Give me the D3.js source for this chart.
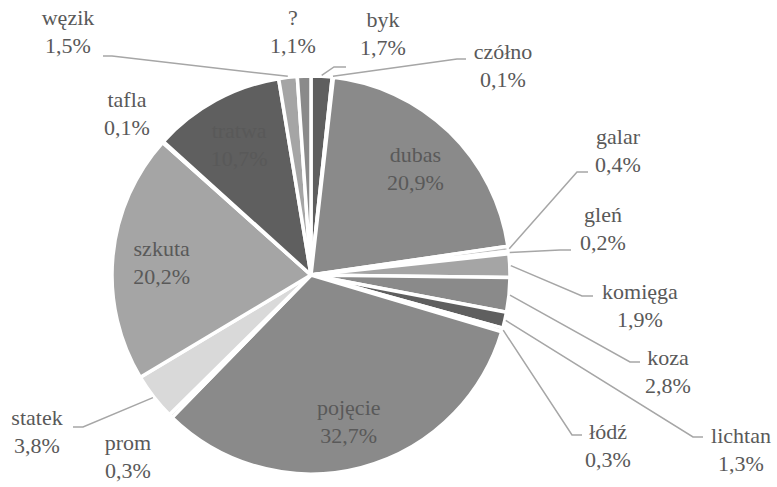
<!DOCTYPE html>
<html>
<head>
<meta charset="utf-8">
<script src="https://cdn.jsdelivr.net/npm/d3@7"></script>
<style>
  body { margin: 0; background: #fff; }
</style>
</head>
<body>
<svg id="chart"></svg>
<script>
// boat types, clockwise from 12 o'clock
var names = ['byk', 'czółno', 'dubas', 'galar', 'gleń', 'komięga', 'koza', 'lichtan', 'łódź',
             'pojęcie', 'prom', 'statek', 'szkuta', 'tafla', 'tratwa', 'węzik', '?'];
var shares = [1.7, 0.1, 20.9, 0.4, 0.2, 1.9, 2.8, 1.3, 0.3, 32.7, 0.3, 3.8, 20.2, 0.1, 10.7, 1.5, 1.1];
var insideNames = ['dubas', 'pojęcie', 'szkuta', 'tratwa'];

var width = 777, height = 487;
var cx = 311, cy = 275, radius = 199;

// grey palette, repeats every 7 slices
var greys = ['#5f5f5f', '#a5a5a5', '#8a8a8a', '#bfbfbf', '#d9d9d9', '#a5a5a5', '#8a8a8a'];

// outside label placement: text centre x, baseline of the first line, leader elbow + end
var outside = {
  'węzik':   { x: 68,  y: 25,  leader: [[112, 56], [103, 56]] },
  '?':       { x: 293, y: 25 },
  'byk':     { x: 383, y: 27,  leader: [[334, 67], [346, 67]] },
  'czółno':  { x: 503, y: 59,  leader: [[457, 59], [466, 59]] },
  'galar':   { x: 618, y: 144, leader: [[577, 172], [588, 172]] },
  'gleń':    { x: 603, y: 222, leader: [[560, 250], [571, 250]] },
  'komięga': { x: 640, y: 299, leader: [[582, 296], [593, 296]] },
  'koza':    { x: 668, y: 365, leader: [[630, 362], [640, 362]] },
  'lichtan': { x: 741, y: 443, leader: [[693, 437], [703, 437]] },
  'łódź':    { x: 608, y: 439, leader: [[572, 435], [582, 435]] },
  'prom':    { x: 128, y: 450 },
  'statek':  { x: 37,  y: 425, leader: [[83, 427], [73, 427]] },
  'tafla':   { x: 127, y: 107 }
};

var pl = d3.formatLocale({ decimal: ',', thousands: ' ', grouping: [3], currency: ['', ' zł'] });
var fmt = pl.format('.1f');

var data = names.map(function(n, i) { return { name: n, value: shares[i], idx: i }; });

var svg = d3.select('#chart')
  .attr('width', width)
  .attr('height', height)
  .style('font-family', "'Liberation Serif', 'DejaVu Serif', serif")
  .style('font-size', '22px');

var pie = d3.pie()
  .sort(null)
  .value(function(d) { return d.value; });

var arc = d3.arc().innerRadius(0).outerRadius(radius);
var edge = d3.arc().innerRadius(radius + 1).outerRadius(radius + 1);
var inner = d3.arc().innerRadius(150).outerRadius(150);

var arcs = pie(data);

var g = svg.append('g').attr('transform', 'translate(' + cx + ',' + cy + ')');

g.selectAll('path.slice')
  .data(arcs)
  .enter()
  .append('path')
    .attr('class', 'slice')
    .attr('d', arc)
    .attr('fill', function(d) { return greys[d.data.idx % 7]; })
    .attr('stroke', '#fff')
    .attr('stroke-width', 3.5)
    .attr('stroke-linejoin', 'round');

// leader lines
arcs.forEach(function(d) {
  var o = outside[d.data.name];
  if (!o || !o.leader) return;
  var p = edge.centroid(d);
  var pts = [[p[0] + cx, p[1] + cy]].concat(o.leader);
  svg.append('path')
    .attr('d', d3.line()(pts))
    .attr('fill', 'none')
    .attr('stroke', '#a6a6a6')
    .attr('stroke-width', 1.5);
});

// labels
arcs.forEach(function(d) {
  var x, y;
  if (insideNames.indexOf(d.data.name) >= 0) {
    var c = inner.centroid(d);
    x = c[0] + cx;
    y = c[1] + cy - 5;
  } else {
    var o = outside[d.data.name];
    x = o.x;
    y = o.y;
  }
  var t = svg.append('text')
    .attr('text-anchor', 'middle')
    .attr('fill', '#595959');
  t.append('tspan').attr('x', x).attr('y', y).text(d.data.name);
  t.append('tspan').attr('x', x).attr('y', y + 28).text(fmt(d.data.value) + '%');
});
</script>
</body>
</html>
